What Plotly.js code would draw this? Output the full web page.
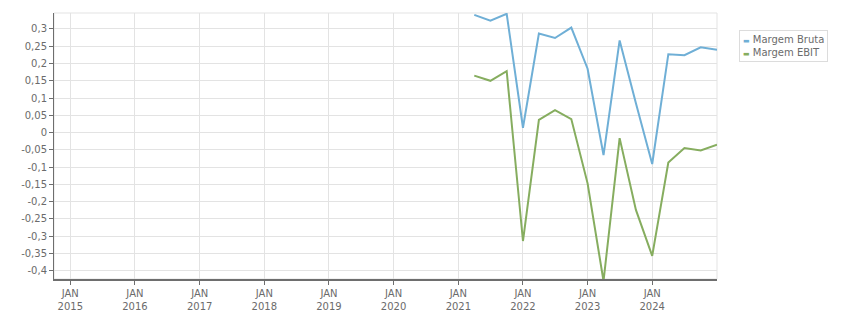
<!DOCTYPE html>
<html>
<head>
<meta charset="utf-8">
<script src="https://cdn.plot.ly/plotly-3.0.1.min.js"></script>
<style>html,body{margin:0;padding:0;background:#fff;}#chart{width:851px;height:313px;}</style>
</head>
<body>
<div id="chart"></div>
<script>
// Quarterly dates
var dates = ["2021-04-01","2021-07-01","2021-10-01","2022-01-01","2022-04-01","2022-07-01","2022-10-01","2023-01-01",
             "2023-04-01","2023-07-01","2023-10-01","2024-01-01","2024-04-01","2024-07-01","2024-10-01","2025-01-01"];
var seriesNames = ["Margem Bruta", "Margem EBIT"];
var margemBruta = [0.341, 0.324, 0.344, 0.014, 0.287, 0.274, 0.304, 0.185, -0.065, 0.267, 0.085, -0.091, 0.227, 0.224, 0.247, 0.240];
var margemEbit  = [0.165, 0.150, 0.178, -0.314, 0.037, 0.065, 0.039, -0.147, -0.430, -0.016, -0.224, -0.357, -0.087, -0.045, -0.052, -0.035];
var seriesColors = ["#6fafd6", "#86ad5f"];

var xTickVals = ["2015-01-01","2016-01-01","2017-01-01","2018-01-01","2019-01-01","2020-01-01","2021-01-01","2022-01-01","2023-01-01","2024-01-01"];
var xTickText = ["JAN<br>2015","JAN<br>2016","JAN<br>2017","JAN<br>2018","JAN<br>2019","JAN<br>2020","JAN<br>2021","JAN<br>2022","JAN<br>2023","JAN<br>2024"];
var yTickVals = [0.3,0.25,0.2,0.15,0.1,0.05,0,-0.05,-0.1,-0.15,-0.2,-0.25,-0.3,-0.35,-0.4];
var yTickText = ["0,3","0,25","0,2","0,15","0,1","0,05","0","-0,05","-0,1","-0,15","-0,2","-0,25","-0,3","-0,35","-0,4"];

var fontFam = "DejaVu Sans, Verdana, sans-serif";
var txtColor = "#6b6b6b";
var gridColor = "#e3e3e3";

var traces = [
  {x: dates, y: margemBruta, name: seriesNames[0], type: "scatter", mode: "lines",
   line: {color: seriesColors[0], width: 2}},
  {x: dates, y: margemEbit, name: seriesNames[1], type: "scatter", mode: "lines",
   line: {color: seriesColors[1], width: 2}}
];

var legendText = seriesNames.map(function(n, i){
  return "<span style='color:" + seriesColors[i] + ";font-size:7px'>\u25AC</span> " + n;
}).join("<br>");

var layout = {
  width: 851, height: 313,
  margin: {l: 54, r: 134, t: 13, b: 34},
  paper_bgcolor: "#fff", plot_bgcolor: "#fff",
  showlegend: false,
  font: {family: fontFam, size: 10, color: txtColor},
  xaxis: {
    type: "date",
    range: ["2014-10-01", "2025-01-01"],
    tickvals: xTickVals, ticktext: xTickText,
    showgrid: true, gridcolor: gridColor, gridwidth: 1,
    showline: true, linecolor: "#6e6e6e", linewidth: 2,
    ticks: "outside", ticklen: 4, tickcolor: "#6e6e6e",
    zeroline: false,
    tickfont: {family: fontFam, size: 10, color: txtColor}
  },
  yaxis: {
    range: [-0.424, 0.3463],
    tickvals: yTickVals, ticktext: yTickText,
    showgrid: true, gridcolor: gridColor, gridwidth: 1,
    showline: true, linecolor: "#6e6e6e", linewidth: 1,
    ticks: "outside", ticklen: 4, tickcolor: "#6e6e6e",
    zeroline: false,
    tickfont: {family: fontFam, size: 10, color: txtColor}
  },
  shapes: [{
    type: "rect", xref: "paper", yref: "paper", x0: 0, x1: 1, y0: 0, y1: 1,
    line: {color: gridColor, width: 1}, layer: "below"
  }],
  annotations: [{
    xref: "paper", yref: "paper", x: 1.033, y: 0.937, xanchor: "left", yanchor: "top",
    text: legendText, showarrow: false, align: "left",
    font: {family: fontFam, size: 10, color: txtColor},
    bordercolor: "#dcdcdc", borderwidth: 1, borderpad: 3, bgcolor: "#fff"
  }]
};

Plotly.newPlot("chart", traces, layout, {displayModeBar: false, staticPlot: true});
</script>
</body>
</html>
